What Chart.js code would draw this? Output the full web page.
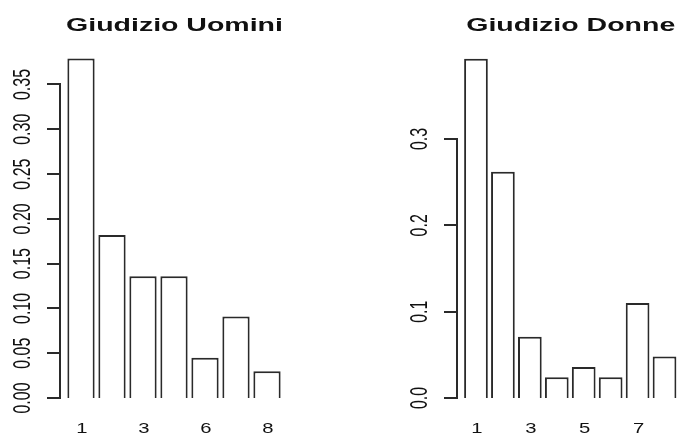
<!DOCTYPE html>
<html>
<head>
<meta charset="utf-8">
<script src="https://cdn.jsdelivr.net/npm/chart.js@4/dist/chart.umd.min.js"></script>
<style>
  html, body { margin: 0; padding: 0; background: #fff; }
  #wrap { position: relative; width: 678px; height: 437px; overflow: hidden; }
  canvas { position: absolute; top: 0; }
</style>
</head>
<body>
<div id="wrap">
  <canvas id="men" width="339" height="437" style="left:0"></canvas>
  <canvas id="women" width="339" height="437" style="left:339px"></canvas>
</div>
<script>
// Relative frequencies of the ratings, by group
const menCategories = ['1', '2', '3', '4', '6', '7', '8'];
const menShares = [0.379, 0.182, 0.136, 0.136, 0.045, 0.091, 0.030];
const menYTicks = [0, 0.05, 0.10, 0.15, 0.20, 0.25, 0.30, 0.35];
const menYTickLabels = ['0.00', '0.05', '0.10', '0.15', '0.20', '0.25', '0.30', '0.35'];

const womenCategories = ['1', '2', '3', '4', '5', '6', '7', '8'];
const womenShares = [0.393, 0.262, 0.071, 0.024, 0.036, 0.024, 0.110, 0.048];
const womenYTicks = [0, 0.1, 0.2, 0.3];
const womenYTickLabels = ['0.0', '0.1', '0.2', '0.3'];

const titles = ['Giudizio Uomini', 'Giudizio Donne'];

const INK = '#2a2a2a';
const FONT = '"Liberation Sans", Arial, sans-serif';

// Text drawn with a horizontal stretch, optionally rotated
function stretchedText(ctx, text, x, y, font, sx, angle, baseline) {
  ctx.save();
  ctx.translate(x, y);
  ctx.scale(sx, 1);
  if (angle) ctx.rotate(angle);
  ctx.font = font;
  ctx.fillStyle = '#111';
  ctx.textAlign = 'center';
  ctx.textBaseline = baseline || 'middle';
  ctx.fillText(text, 0, 0);
  ctx.restore();
}

// Base-graphics style axes: y axis spanning first to last tick, sparse x labels, bold title
const baseAxes = {
  id: 'baseAxes',
  afterDraw(chart, args, opts) {
    const ctx = chart.ctx;
    const area = chart.chartArea;
    const y = chart.scales.y;
    const x = chart.scales.x;
    const axisX = Math.round(area.left - 6);
    const tickLen = 12;

    ctx.save();
    ctx.strokeStyle = INK;
    ctx.lineWidth = 2;
    ctx.lineCap = 'square';
    ctx.beginPath();
    const y0 = Math.round(y.getPixelForValue(opts.ticks[0]));
    const y1 = Math.round(y.getPixelForValue(opts.ticks[opts.ticks.length - 1]));
    ctx.moveTo(axisX, y0);
    ctx.lineTo(axisX, y1);
    opts.ticks.forEach(v => {
      const py = Math.round(y.getPixelForValue(v));
      ctx.moveTo(axisX, py);
      ctx.lineTo(axisX - tickLen, py);
    });
    ctx.stroke();
    ctx.restore();

    // rotated tick labels
    opts.ticks.forEach((v, i) => {
      const py = y.getPixelForValue(v);
      stretchedText(ctx, opts.tickLabels[i], axisX - 37, py,
        '16px ' + FONT, 1.5, -Math.PI / 2);
    });

    // category labels: every other one, as space allows
    chart.data.labels.forEach((lab, i) => {
      if (i % 2 !== 0) return;
      stretchedText(ctx, lab, x.getPixelForValue(i) + 1, 429, '15px ' + FONT, 1.35, 0);
    });

    // title
    stretchedText(ctx, opts.title, (area.left + area.right) / 2 + 0.5, 31,
      'bold 19px ' + FONT, 1.5, 0, 'alphabetic');
  }
};

function makeChart(id, labels, values, yMax, padding, ticks, tickLabels, title) {
  return new Chart(document.getElementById(id), {
    type: 'bar',
    data: {
      labels: labels,
      datasets: [{
        data: values,
        backgroundColor: '#ffffff',
        borderColor: INK,
        borderWidth: 2,
        barPercentage: 0.88,
        categoryPercentage: 1.0
      }]
    },
    options: {
      responsive: false,
      animation: false,
      devicePixelRatio: 1,
      layout: { padding: padding },
      scales: {
        x: { display: false, offset: true },
        y: { display: false, min: 0, max: yMax }
      },
      plugins: {
        legend: { display: false },
        tooltip: { enabled: false },
        baseAxes: { ticks: ticks, tickLabels: tickLabels, title: title }
      }
    },
    plugins: [baseAxes]
  });
}

makeChart('men', menCategories, menShares, 0.40,
  { left: 65.5, right: 56.5, top: 39.7, bottom: 39 },
  menYTicks, menYTickLabels, titles[0]);

makeChart('women', womenCategories, womenShares, 0.42,
  { left: 123.5, right: 0, top: 35.4, bottom: 39 },
  womenYTicks, womenYTickLabels, titles[1]);
</script>
</body>
</html>
